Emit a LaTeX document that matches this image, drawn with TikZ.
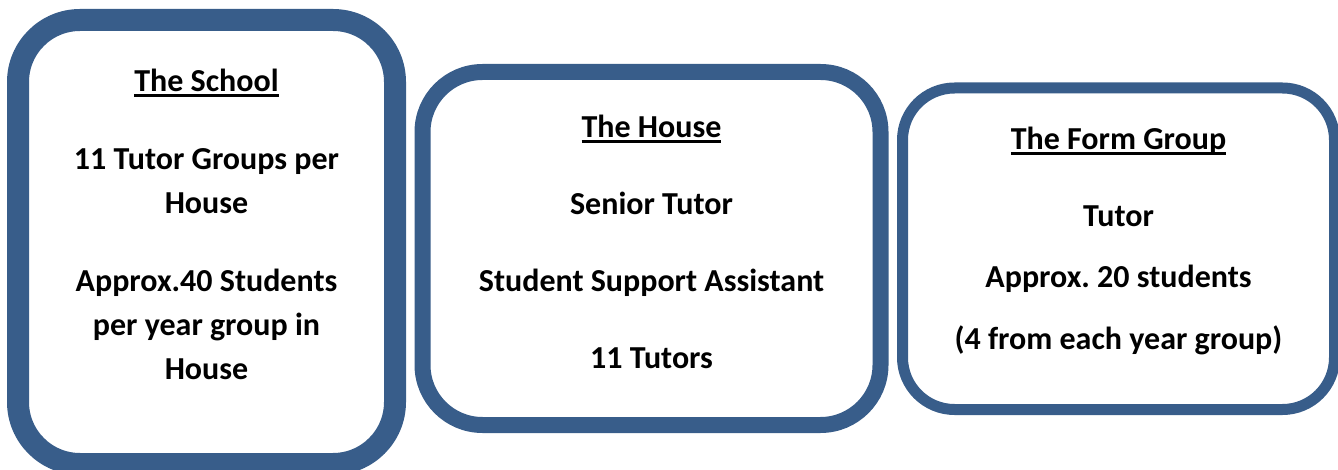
\documentclass[tikz,border=0pt]{standalone}
\usepackage{fontspec}
\setmainfont{Carlito}
\usepackage{xcolor}
\usepackage{tikz}
\usetikzlibrary{positioning}
\frenchspacing

\definecolor{panelblue}{HTML}{385D8A}
\newcommand{\headline}[1]{\setbox0\hbox{#1}\rlap{\rule[-5pt]{\wd0}{2.6pt}}\box0}

\tikzset{
  panel/.style={draw=panelblue, fill=white, rectangle, inner sep=0pt},
  paneltext/.style={align=center, anchor=north, inner sep=0pt,
    font=\fontsize{32}{44}\selectfont\bfseries}
}

\begin{document}
\begin{tikzpicture}[x=1pt, y=-1pt]
                \useasboundingbox (0,0) rectangle (1338,470);
                % The School
                \node[panel, line width=22pt, rounded corners=62pt,
                      minimum width=377pt, minimum height=444pt] (school) at (206.5,242) {};
                \node[paneltext] (schooltext) at (206.5,69) {\headline{The School}\\[34pt]
                    11 Tutor Groups per\\ House\\[34pt]
                    Approx.40 Students\\ per year group in\\ House};
                % The House
                \node[panel, line width=16pt, rounded corners=60pt,
                      minimum width=458pt, minimum height=353pt] (house) at (651.5,248.5) {};
                \node[paneltext] (housetext) at (651.5,115) {\headline{The House}\\[33pt]
                    Senior Tutor\\[33pt] Student Support Assistant\\[33pt] 11 Tutors};
                % The Form Group
                \node[panel, line width=11pt, rounded corners=52pt,
                      minimum width=432pt, minimum height=321.5pt] (form) at (1118.5,248.75) {};
                \node[paneltext] (formtext) at (1118.5,127) {\headline{The Form Group}\\[33pt]
                    Tutor\\[17pt] Approx. 20 students\\[18pt] (4 from each year group)};
            \end{tikzpicture}
\end{document}
